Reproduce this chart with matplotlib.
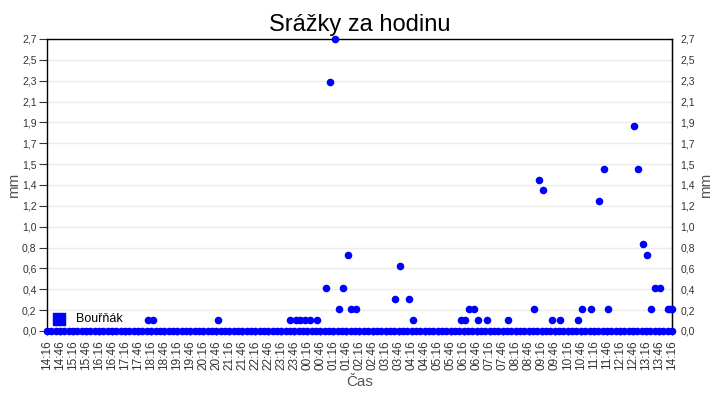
import numpy as np
import pandas as pd
import matplotlib
matplotlib.use("Agg")
import matplotlib.pyplot as plt
import matplotlib.dates as mdates

plt.rcParams['font.family'] = ['Liberation Sans', 'DejaVu Sans']

# period shown: 24 hours from 14:16
start = pd.Timestamp("2024-01-01 14:16")
end = start + pd.Timedelta(hours=24)

# non-zero readings (time of day, mm)
rain_times = ["18:09", "18:20", "20:50", "23:37", "23:49", "00:00", "00:10", "00:21",
              "00:38", "00:59", "01:08", "01:20", "01:29", "01:38", "01:50", "01:57",
              "02:08", "03:38", "03:49", "04:10", "04:19", "06:09", "06:19", "06:28",
              "06:40", "06:49", "07:10", "07:58", "08:58", "09:10", "09:19", "09:40",
              "09:58", "10:39", "10:49", "11:09", "11:27", "11:39", "11:49", "12:48",
              "12:58", "13:09", "13:18", "13:28", "13:38", "13:49", "14:07", "14:11",
              "14:15"]
rain_mm = [0.1, 0.1, 0.1, 0.1, 0.1, 0.1, 0.1, 0.1,
           0.1, 0.4, 2.3, 2.7, 0.2, 0.4, 0.7, 0.2,
           0.2, 0.3, 0.6, 0.3, 0.1, 0.1, 0.1, 0.2,
           0.2, 0.1, 0.1, 0.1, 0.2, 1.4, 1.3, 0.1,
           0.1, 0.1, 0.2, 0.2, 1.2, 1.5, 0.2, 1.9,
           1.5, 0.8, 0.7, 0.2, 0.4, 0.4, 0.2, 0.2,
           0.2]

series_name = "Bouřňák"


def to_stamp(hhmm):
    t = pd.Timestamp(start.strftime("%Y-%m-%d ") + hhmm)
    if t < start:
        t += pd.Timedelta(days=1)
    return t


x_rain = [to_stamp(t) for t in rain_times]

# all other 10-minute readings were 0 mm
x_zero = pd.date_range(start, end, freq="10min")
y_zero = np.zeros(len(x_zero))

fig = plt.figure(figsize=(7.2, 4.0), dpi=100)
ax = fig.add_axes([0.0653, 0.1725, 0.868, 0.73])

blue = "#0000ff"
ax.scatter(x_zero, y_zero, s=30, color=blue, zorder=3, clip_on=False, linewidths=0)
ax.scatter(x_rain, rain_mm, s=30, color=blue, zorder=3, clip_on=False, linewidths=0)

ax.set_xlim(start, end)
ax.set_ylim(0, 2.7)

yt = np.linspace(0, 2.7, 15)
ylabels = [f"{v:.1f}".replace(".", ",") for v in yt]
ax.set_yticks(yt)
ax.set_yticklabels(ylabels)
ax.yaxis.grid(True, color="#ebebeb", linewidth=1)
ax.set_axisbelow(True)

ax.set_xticks(pd.date_range(start, end, freq="30min"))
ax.xaxis.set_major_formatter(mdates.DateFormatter("%H:%M"))
plt.setp(ax.get_xticklabels(), rotation=90)

ax.tick_params(axis="y", direction="out", length=6, pad=1.5, labelsize=7.5,
               colors="#333333")
ax.tick_params(axis="x", direction="out", length=3, labelsize=8.5, colors="#333333")
for sp in ax.spines.values():
    sp.set_color("black")
    sp.set_linewidth(1)

# right-hand copy of the y axis
ax2 = ax.secondary_yaxis("right")
ax2.set_yticks(yt)
ax2.set_yticklabels(ylabels)
ax2.tick_params(direction="in", length=2.5, pad=6, labelsize=7.5, colors="#333333")
ax2.spines["right"].set_color("black")

ax.text(-0.052, 0.5, "mm", rotation=90, ha="center", va="center", fontsize=11,
        color="#555555", transform=ax.transAxes)
ax.text(1.054, 0.5, "mm", rotation=90, ha="center", va="center", fontsize=11,
        color="#555555", transform=ax.transAxes)

ax.set_xlabel("Čas", fontsize=11, color="#555555", labelpad=4)
ax.set_title("Srážky za hodinu", fontsize=17, color="black", pad=6)

ax.scatter([], [], marker="s", s=80, color=blue, label=series_name)
ax.legend(loc="center left", frameon=False, fontsize=9, handlelength=1.0,
          handletextpad=0.8, borderpad=0, borderaxespad=0,
          bbox_to_anchor=(6 / 625, 0.041))

fig.savefig("out.png", dpi=100)
